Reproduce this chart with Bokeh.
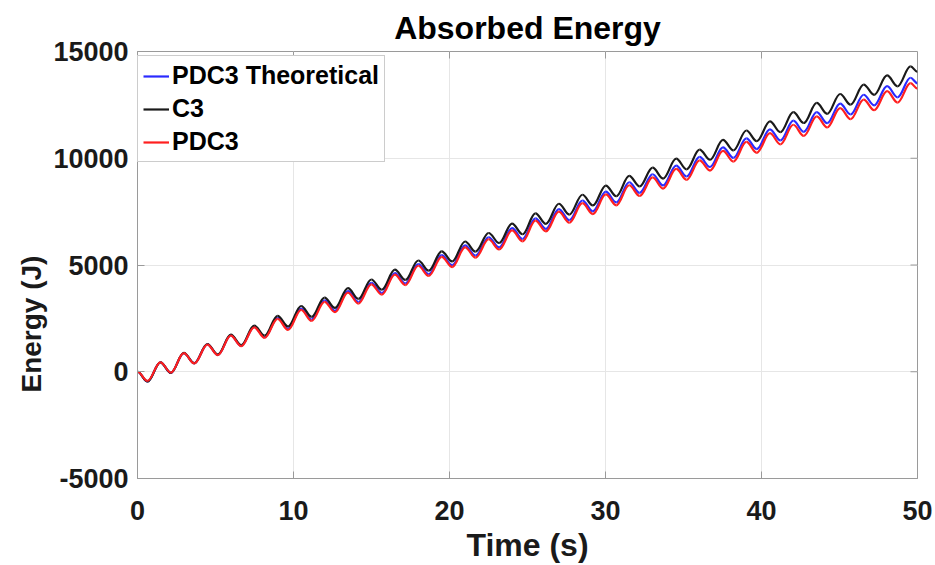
import numpy as np
from bokeh.plotting import figure
from bokeh.models import (ColumnDataSource, FixedTicker, Range1d, Title,
                          CustomJSTickFormatter)
from bokeh.embed import file_html
from bokeh.resources import INLINE

title_text = "Absorbed Energy"
x_label = "Time (s)"
y_label = "Energy (J)"
series_names = ["PDC3 Theoretical", "C3", "PDC3"]
x_ticks = [0, 10, 20, 30, 40, 50]
y_ticks = [-5000, 0, 5000, 10000, 15000]
x_limits = (0, 50)
y_limits = (-5000, 15000)

# times of the successive troughs / peaks (s)
time_s = [0.00, 0.64, 1.47, 2.14, 2.97, 3.64, 4.48, 5.15, 5.98, 6.65, 7.48, 8.15,
          8.98, 9.65, 10.49, 11.16, 11.99, 12.66, 13.49, 14.16, 14.99, 15.66, 16.50,
          17.17, 18.00, 18.67, 19.50, 20.17, 21.00, 21.67, 22.51, 23.18, 24.01, 24.68,
          25.51, 26.18, 27.01, 27.68, 28.52, 29.19, 30.02, 30.69, 31.52, 32.19, 33.02,
          33.69, 34.53, 35.20, 36.03, 36.70, 37.53, 38.20, 39.03, 39.70, 40.54, 41.21,
          42.04, 42.71, 43.54, 44.21, 45.04, 45.71, 46.55, 47.22, 48.05, 48.72, 49.55,
          50.00]

pdc3_theoretical = [0, -450, 440, -50, 875, 395, 1285, 790, 1705, 1215, 2105, 1620,
                    2525, 2010, 2960, 2445, 3340, 2855, 3775, 3265, 4165, 3685, 4620,
                    4135, 5045, 4570, 5465, 4990, 5915, 5435, 6300, 5825, 6725, 6215,
                    7185, 6690, 7620, 7100, 8020, 7515, 8440, 7930, 8875, 8380, 9250,
                    8730, 9655, 9145, 10060, 9590, 10510, 10015, 10935, 10430, 11350, 10835,
                    11760, 11240, 12165, 11645, 12560, 12050, 12975, 12480, 13380, 12855, 13770,
                    13510]

c3 = [0, -460, 440, -50, 880, 400, 1300, 810, 1735, 1250, 2160, 1690,
      2620, 2120, 3080, 2570, 3470, 2990, 3920, 3410, 4320, 3840, 4780,
      4300, 5210, 4740, 5640, 5170, 6100, 5630, 6500, 6030, 6940, 6440,
      7420, 6930, 7870, 7360, 8290, 7790, 8720, 8220, 9170, 8680, 9560,
      9050, 9980, 9480, 10400, 9930, 10860, 10370, 11300, 10800, 11730, 11220,
      12160, 11650, 12590, 12080, 13010, 12510, 13450, 12970, 13880, 13370, 14300,
      14050]

pdc3 = [0, -430, 440, -40, 870, 390, 1275, 780, 1690, 1195, 2080, 1590,
        2480, 1960, 2900, 2385, 3275, 2790, 3710, 3195, 4095, 3610, 4545,
        4060, 4965, 4490, 5380, 4905, 5825, 5345, 6205, 5725, 6620, 6110,
        7075, 6575, 7500, 6980, 7895, 7385, 8305, 7795, 8735, 8235, 9100,
        8580, 9500, 8990, 9900, 9425, 10345, 9845, 10765, 10255, 11175, 10650,
        11570, 11045, 11965, 11440, 12350, 11830, 12750, 12250, 13140, 12610, 13520,
        13260]

colors = ["#2a2aff", "#1a1a1a", "#ff1f1f"]
FONT = "Liberation Sans"
GREY = "#9a9a9a"


def bezier_source(t, v, k=0.364):
    t = np.asarray(t, dtype=float)
    v = np.asarray(v, dtype=float)
    x0, x1 = t[:-1], t[1:]
    y0, y1 = v[:-1], v[1:]
    dx = x1 - x0
    return ColumnDataSource(dict(x0=x0, y0=y0, x1=x1, y1=y1,
                                 cx0=x0 + k * dx, cy0=y0,
                                 cx1=x1 - k * dx, cy1=y1))


p = figure(width=935, height=565, x_range=Range1d(*x_limits), y_range=Range1d(*y_limits),
           output_backend="svg", toolbar_location=None,
           min_border_left=137, min_border_right=18, min_border_top=51, min_border_bottom=87)

for name, vals, col in zip(series_names, [pdc3_theoretical, c3, pdc3], colors):
    src = bezier_source(time_s, vals)
    p.bezier(x0="x0", y0="y0", x1="x1", y1="y1", cx0="cx0", cy0="cy0", cx1="cx1", cy1="cy1",
             source=src, line_color=col, line_width=2.2, legend_label=name)

# inward ticks on the top and right edges of the box
p.ray(x=x_ticks[1:-1], y=[y_limits[1]] * (len(x_ticks) - 2), length=7, length_units="screen",
      angle=-np.pi / 2, line_color=GREY, line_width=1)
p.ray(x=[x_limits[1]] * (len(y_ticks) - 2), y=y_ticks[1:-1], length=7, length_units="screen",
      angle=np.pi, line_color=GREY, line_width=1)

# title
p.title.text = title_text
p.title.align = "center"
p.title.text_font = FONT
p.title.text_font_size = "32px"
p.title.text_font_style = "bold"
p.title.text_color = "#000000"
p.title.standoff = 12

# main axes
for ax in [p.xaxis[0], p.yaxis[0]]:
    ax.major_tick_in = 7
    ax.major_tick_out = 0
    ax.minor_tick_in = 0
    ax.minor_tick_out = 0
    ax.axis_line_color = GREY
    ax.major_tick_line_color = GREY
    ax.major_label_text_font = FONT
    ax.major_label_text_font_size = "27px"
    ax.major_label_text_font_style = "bold"
    ax.major_label_text_color = "#1a1a1a"

p.xaxis[0].ticker = FixedTicker(ticks=x_ticks)
p.yaxis[0].ticker = FixedTicker(ticks=y_ticks)
p.yaxis[0].formatter = CustomJSTickFormatter(code="return String(tick)")
p.xaxis[0].major_label_standoff = 22
p.yaxis[0].major_label_standoff = 9
p.xaxis[0].axis_label = x_label
p.xaxis[0].axis_label_text_font = FONT
p.xaxis[0].axis_label_text_font_size = "32px"
p.xaxis[0].axis_label_text_font_style = "bold"
p.xaxis[0].axis_label_text_color = "#1a1a1a"
p.xaxis[0].axis_label_standoff = 4

# y label: placed lower than the frame centre, as in the reference
p.add_layout(Title(text=y_label, align="left", offset=86, standoff=8,
                   text_font=FONT, text_font_size="28px", text_font_style="bold",
                   text_color="#1a1a1a"), "left")

# grid
p.xgrid.ticker = FixedTicker(ticks=x_ticks)
p.ygrid.ticker = FixedTicker(ticks=y_ticks)
p.grid.grid_line_color = "#e6e6e6"
p.grid.grid_line_width = 1
p.outline_line_color = GREY

# legend
lg = p.legend[0]
lg.location = (0, 316)
lg.label_text_font = FONT
lg.label_text_font_size = "25px"
lg.label_text_font_style = "bold"
lg.label_text_color = "#000000"
lg.glyph_width = 26
lg.glyph_height = 28
lg.label_height = 28
lg.label_standoff = 3
lg.spacing = 4
lg.padding = 5
lg.border_line_color = GREY
lg.border_line_width = 1
lg.background_fill_alpha = 1

open("out.html", "w").write(file_html(p, INLINE))
